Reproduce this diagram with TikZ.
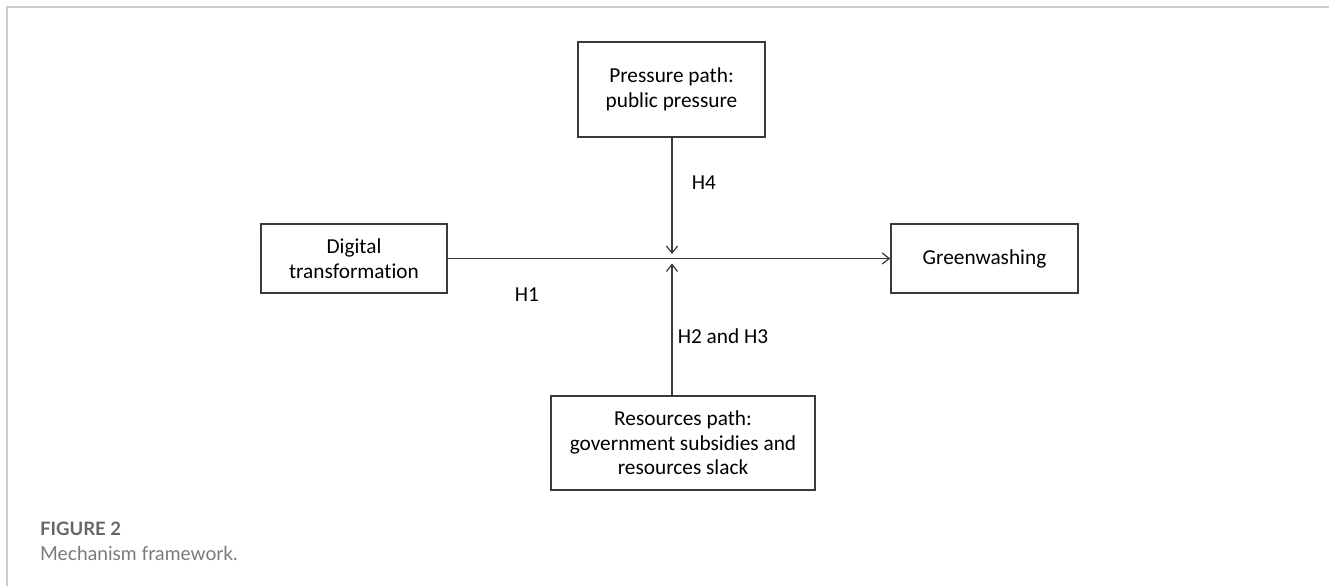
\documentclass[tikz,border=0pt]{standalone}
\usepackage{fontspec}
\setmainfont{Carlito}[Ligatures=NoCommon]
\newfontfamily\capfont{Lato}
\usetikzlibrary{arrows.meta}
\definecolor{frameGray}{HTML}{CCCCCC}
\definecolor{lineGray}{HTML}{3A3A3A}
\definecolor{capDark}{HTML}{666666}
\definecolor{capLight}{HTML}{7A7A7A}
\begin{document}
\begin{tikzpicture}[x=1pt,y=-1pt,
  box/.style={draw=lineGray,line width=1.6pt,inner sep=0pt,align=center,
    font=\fontsize{21.3}{24.5}\selectfont},
  conn/.style={draw=lineGray,line width=1.3pt},
  tip/.style={-{Straight Barb[length=7pt,width=11pt,line width=1.2pt]}},
  lab/.style={font=\fontsize{21.3}{24}\selectfont,inner sep=0pt}]
\useasboundingbox (0,0) rectangle (1329,586);
\fill[white] (0,0) rectangle (1329,586);
\draw[frameGray,line width=2pt] (1329,7) -- (7,7) -- (7,586);
% boxes
\node[box,minimum width=187pt,minimum height=95pt] (press) at (671.5,89.5) {Pressure path:\\public pressure};
\node[box,minimum width=186pt,minimum height=69pt] (digi) at (354,258.5) {Digital\\transformation};
\node[box,minimum width=187pt,minimum height=69pt] (green) at (984.5,258.5) {Greenwashing};
\node[box,minimum width=264pt,minimum height=94pt] (res) at (683,443) {Resources path:\\government subsidies and\\resources slack};
% junction
\coordinate (jt) at (672,254);
\coordinate (jb) at (672,263.5);
\coordinate (pb) at (672,137);
\coordinate (rt) at (672,396);
\draw[conn,tip] (digi.east) -- (green.west);
\draw[conn,tip] (pb) -- (jt);
\draw[conn,tip] (rt) -- (jb);
% labels
\node[lab] (h4) at (704,183) {H4};
\node[lab] (h1) at (527,295) {H1};
\node[lab] (h23) at (723,336) {H2 and H3};
% caption
\node[anchor=base west,inner sep=0pt,font=\capfont\bfseries\fontsize{18.5}{22}\selectfont,text=capDark] (fig) at (40,535) {FIGURE 2};
\node[anchor=base west,inner sep=0pt,font=\capfont\fontsize{19.2}{22}\selectfont,text=capLight] (cap) at (40,560) {Mechanism framework.};
\end{tikzpicture}
\end{document}
